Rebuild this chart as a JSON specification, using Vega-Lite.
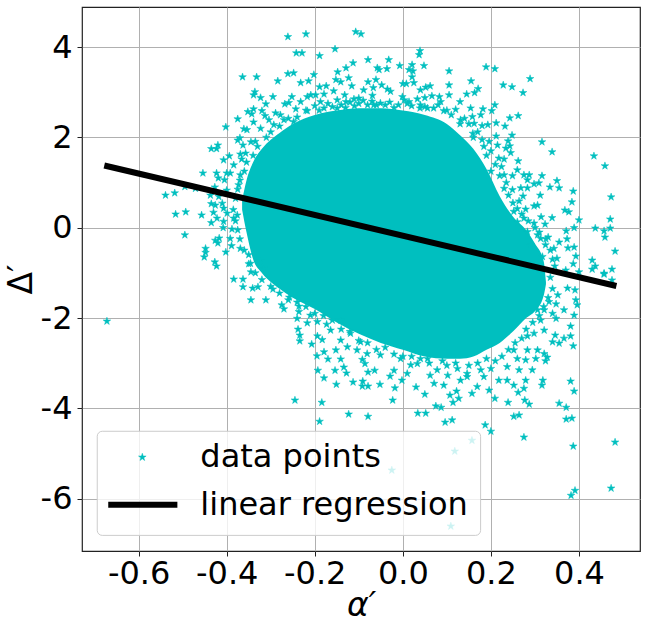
{"$schema":"https://vega.github.io/schema/vega-lite/v6.json","width":558,"height":544,"autosize":"none","padding":{"left":82,"top":7,"right":7,"bottom":80},"background":"white",
"config":{"font":"DejaVu Sans","view":{"stroke":"#222","strokeWidth":1.2}},
"datasets":{
"core":[{"x":-0.365,"lo":0.4,"hi":0.6},{"x":-0.355,"lo":-0.1,"hi":1.05},{"x":-0.34,"lo":-0.7,"hi":1.45},{"x":-0.32,"lo":-1.0,"hi":1.75},{"x":-0.3,"lo":-1.2,"hi":1.95},{"x":-0.28,"lo":-1.35,"hi":2.1},{"x":-0.25,"lo":-1.55,"hi":2.3},{"x":-0.2,"lo":-1.8,"hi":2.5},{"x":-0.15,"lo":-2.1,"hi":2.6},{"x":-0.1,"lo":-2.35,"hi":2.65},{"x":-0.05,"lo":-2.55,"hi":2.65},{"x":0,"lo":-2.7,"hi":2.6},{"x":0.05,"lo":-2.85,"hi":2.5},{"x":0.1,"lo":-2.9,"hi":2.3},{"x":0.13,"lo":-2.9,"hi":2.05},{"x":0.16,"lo":-2.85,"hi":1.75},{"x":0.19,"lo":-2.7,"hi":1.3},{"x":0.22,"lo":-2.55,"hi":0.7},{"x":0.25,"lo":-2.3,"hi":0.25},{"x":0.28,"lo":-2.0,"hi":-0.05},{"x":0.3,"lo":-1.85,"hi":-0.35},{"x":0.32,"lo":-1.5,"hi":-0.75},{"x":0.325,"lo":-1.25,"hi":-1.2}],
"fit":[{"x":-0.678,"y":1.38},{"x":0.485,"y":-1.29}],
"box":[{"x":-0.694,"x2":0.1766,"y":-4.508,"y2":-6.814}],
"keyStar":[{"x":-0.5916,"y":-5.084}],
"keyLine":[{"x":-0.669,"y":-6.133},{"x":-0.512,"y":-6.133}],
"keyText":[{"x":-0.4598,"y":-5.306,"label":"data points"},{"x":-0.4598,"y":-6.37,"label":"linear regression"}],
"pts":[{"x":-0.24,"y":2.45},{"x":-0.22,"y":2.6},{"x":-0.2,"y":2.7},{"x":-0.19,"y":2.6},{"x":-0.17,"y":2.75},{"x":-0.16,"y":2.68},{"x":-0.14,"y":2.72},{"x":-0.13,"y":2.66},{"x":-0.12,"y":2.78},{"x":-0.11,"y":2.7},{"x":-0.1,"y":2.75},{"x":-0.09,"y":2.82},{"x":-0.08,"y":2.72},{"x":-0.07,"y":2.8},{"x":-0.06,"y":2.72},{"x":-0.04,"y":2.72},{"x":-0.03,"y":2.78},{"x":-0.01,"y":2.72},{"x":0.01,"y":2.75},{"x":0.02,"y":2.7},{"x":0.04,"y":2.72},{"x":0.05,"y":2.68},{"x":0.07,"y":2.65},{"x":0.08,"y":2.72},{"x":0.1,"y":2.6},{"x":0.11,"y":2.5},{"x":0.12,"y":2.62},{"x":0.14,"y":2.42},{"x":0.15,"y":2.3},{"x":0.17,"y":2.12},{"x":0.13,"y":2.3},{"x":0.18,"y":1.95},{"x":0.16,"y":2.0},{"x":0.2,"y":1.7},{"x":0.19,"y":1.6},{"x":0.21,"y":1.4},{"x":0.2,"y":1.25},{"x":0.22,"y":1.15},{"x":0.235,"y":1.0},{"x":0.24,"y":0.72},{"x":0.25,"y":0.55},{"x":0.26,"y":0.42},{"x":0.27,"y":0.3},{"x":0.285,"y":0.15},{"x":0.3,"y":0},{"x":0.31,"y":-0.1},{"x":0.325,"y":-0.25},{"x":0.335,"y":-0.5},{"x":0.34,"y":-0.7},{"x":0.345,"y":-0.85},{"x":0.335,"y":-1.1},{"x":0.34,"y":-1.35},{"x":0.33,"y":-1.55},{"x":0.32,"y":-1.75},{"x":0.31,"y":-1.95},{"x":0.295,"y":-2.1},{"x":0.28,"y":-2.25},{"x":0.27,"y":-2.45},{"x":0.255,"y":-2.55},{"x":0.24,"y":-2.7},{"x":0.225,"y":-2.85},{"x":0.21,"y":-2.95},{"x":0.19,"y":-2.9},{"x":0.17,"y":-3.0},{"x":0.15,"y":-3.05},{"x":0.12,"y":-3.0},{"x":0.1,"y":-3.05},{"x":0.09,"y":-2.95},{"x":0.06,"y":-3.0},{"x":0.04,"y":-2.9},{"x":0.02,"y":-2.85},{"x":0,"y":-2.85},{"x":-0.02,"y":-2.8},{"x":-0.04,"y":-2.65},{"x":-0.06,"y":-2.7},{"x":-0.08,"y":-2.55},{"x":-0.1,"y":-2.5},{"x":-0.12,"y":-2.3},{"x":-0.14,"y":-2.25},{"x":-0.16,"y":-2.05},{"x":-0.18,"y":-1.95},{"x":-0.2,"y":-1.9},{"x":-0.22,"y":-1.75},{"x":-0.24,"y":-1.65},{"x":-0.26,"y":-1.6},{"x":-0.28,"y":-1.45},{"x":-0.3,"y":-1.3},{"x":-0.32,"y":-1.15},{"x":-0.335,"y":-1.0},{"x":-0.35,"y":-0.8},{"x":-0.36,"y":-0.5},{"x":-0.37,"y":-0.25},{"x":-0.375,"y":-0.05},{"x":-0.38,"y":0.15},{"x":-0.385,"y":0.4},{"x":-0.38,"y":0.65},{"x":-0.375,"y":0.85},{"x":-0.37,"y":1.05},{"x":-0.36,"y":1.25},{"x":-0.355,"y":1.45},{"x":-0.34,"y":1.6},{"x":-0.33,"y":1.8},{"x":-0.31,"y":2.0},{"x":-0.3,"y":2.12},{"x":-0.28,"y":2.25},{"x":-0.26,"y":2.42},{"x":-0.261,"y":4.23},{"x":-0.22,"y":4.29},{"x":-0.107,"y":4.34},{"x":-0.095,"y":4.29},{"x":-0.154,"y":3.96},{"x":-0.242,"y":3.87},{"x":-0.229,"y":3.87},{"x":-0.189,"y":3.81},{"x":-0.079,"y":3.72},{"x":-0.113,"y":3.65},{"x":-0.129,"y":3.54},{"x":-0.148,"y":3.45},{"x":-0.261,"y":3.41},{"x":-0.248,"y":3.43},{"x":-0.202,"y":3.39},{"x":-0.364,"y":3.34},{"x":-0.332,"y":3.34},{"x":-0.284,"y":3.25},{"x":-0.232,"y":3.21},{"x":-0.214,"y":3.25},{"x":-0.123,"y":3.32},{"x":-0.152,"y":3.28},{"x":-0.141,"y":3.23},{"x":-0.116,"y":3.14},{"x":-0.079,"y":3.23},{"x":-0.189,"y":3.12},{"x":-0.174,"y":3.14},{"x":-0.336,"y":3.01},{"x":-0.339,"y":2.94},{"x":-0.323,"y":2.88},{"x":-0.295,"y":2.9},{"x":-0.252,"y":2.9},{"x":-0.311,"y":2.74},{"x":-0.209,"y":2.94},{"x":-0.198,"y":2.94},{"x":-0.217,"y":2.9},{"x":-0.179,"y":2.96},{"x":-0.157,"y":3.03},{"x":-0.132,"y":2.94},{"x":-0.111,"y":2.85},{"x":-0.089,"y":3.05},{"x":-0.1,"y":2.87},{"x":-0.268,"y":2.74},{"x":-0.259,"y":2.77},{"x":-0.232,"y":2.79},{"x":-0.187,"y":2.79},{"x":-0.149,"y":2.83},{"x":-0.129,"y":2.79},{"x":-0.352,"y":2.57},{"x":-0.339,"y":2.63},{"x":-0.343,"y":2.52},{"x":-0.32,"y":2.59},{"x":-0.289,"y":2.54},{"x":-0.243,"y":2.63},{"x":-0.217,"y":2.59},{"x":-0.179,"y":2.65},{"x":-0.149,"y":2.65},{"x":-0.375,"y":2.41},{"x":-0.339,"y":2.34},{"x":-0.313,"y":2.48},{"x":-0.304,"y":2.39},{"x":-0.278,"y":2.5},{"x":-0.27,"y":2.39},{"x":-0.402,"y":2.23},{"x":-0.361,"y":2.19},{"x":-0.354,"y":2.17},{"x":-0.323,"y":2.2},{"x":-0.293,"y":2.28},{"x":-0.248,"y":2.35},{"x":-0.37,"y":1.99},{"x":-0.375,"y":1.94},{"x":-0.42,"y":1.83},{"x":-0.435,"y":1.75},{"x":-0.423,"y":1.75},{"x":-0.345,"y":1.9},{"x":-0.335,"y":1.91},{"x":-0.363,"y":1.83},{"x":-0.394,"y":1.59},{"x":-0.407,"y":1.5},{"x":-0.369,"y":1.63},{"x":-0.357,"y":1.65},{"x":-0.366,"y":1.52},{"x":-0.384,"y":1.39},{"x":-0.454,"y":1.21},{"x":-0.423,"y":1.21},{"x":-0.419,"y":1.1},{"x":-0.405,"y":1.06},{"x":-0.4,"y":1.21},{"x":-0.392,"y":1.21},{"x":-0.369,"y":1.17},{"x":-0.373,"y":0.95},{"x":-0.495,"y":0.91},{"x":-0.471,"y":0.87},{"x":-0.427,"y":0.9},{"x":-0.4,"y":0.83},{"x":-0.539,"y":0.72},{"x":-0.518,"y":0.77},{"x":-0.437,"y":0.72},{"x":-0.418,"y":0.69},{"x":-0.435,"y":0.53},{"x":-0.426,"y":0.5},{"x":-0.41,"y":0.54},{"x":-0.407,"y":0.43},{"x":-0.516,"y":0.3},{"x":-0.493,"y":0.35},{"x":-0.457,"y":0.28},{"x":-0.43,"y":0.34},{"x":-0.399,"y":0.32},{"x":-0.422,"y":0.21},{"x":-0.435,"y":0.11},{"x":-0.407,"y":0.14},{"x":-0.384,"y":0.21},{"x":-0.376,"y":0.28},{"x":-0.408,"y":0},{"x":-0.388,"y":-0.03},{"x":-0.495,"y":-0.16},{"x":-0.417,"y":-0.23},{"x":-0.426,"y":-0.28},{"x":-0.42,"y":-0.34},{"x":-0.392,"y":-0.24},{"x":-0.389,"y":-0.4},{"x":-0.369,"y":-0.46},{"x":-0.448,"y":-0.46},{"x":-0.448,"y":-0.55},{"x":-0.451,"y":-0.65},{"x":-0.402,"y":-0.54},{"x":-0.427,"y":-0.76},{"x":-0.423,"y":-0.85},{"x":-0.35,"y":-0.6},{"x":-0.346,"y":-0.79},{"x":-0.345,"y":-0.98},{"x":-0.323,"y":-0.75},{"x":-0.316,"y":-0.9},{"x":-0.384,"y":-1.14},{"x":-0.363,"y":-1.14},{"x":-0.363,"y":-1.31},{"x":-0.341,"y":-1.34},{"x":-0.329,"y":-1.31},{"x":-0.295,"y":-1.36},{"x":-0.345,"y":-1.6},{"x":-0.311,"y":-1.6},{"x":-0.275,"y":-1.71},{"x":-0.27,"y":-1.8},{"x":-0.258,"y":-1.54},{"x":-0.236,"y":-1.74},{"x":-0.236,"y":-1.86},{"x":-0.24,"y":-2.01},{"x":-0.672,"y":-2.07},{"x":-0.238,"y":-2.25},{"x":-0.234,"y":-2.38},{"x":-0.234,"y":-2.51},{"x":-0.207,"y":-2.58},{"x":-0.194,"y":-2.4},{"x":-0.194,"y":-2.08},{"x":-0.217,"y":-2.11},{"x":-0.173,"y":-2.14},{"x":-0.164,"y":-2.27},{"x":-0.183,"y":-2.48},{"x":-0.152,"y":-2.71},{"x":-0.179,"y":-2.75},{"x":-0.195,"y":-2.84},{"x":-0.17,"y":-2.91},{"x":-0.141,"y":-2.91},{"x":-0.134,"y":-3.09},{"x":-0.154,"y":-3.16},{"x":-0.193,"y":-3.16},{"x":-0.179,"y":-3.33},{"x":-0.128,"y":-3.22},{"x":-0.079,"y":-3.2},{"x":-0.151,"y":-3.47},{"x":-0.113,"y":-3.42},{"x":-0.091,"y":-3.4},{"x":-0.092,"y":-3.51},{"x":-0.079,"y":-3.51},{"x":-0.092,"y":-2.92},{"x":-0.086,"y":-3.01},{"x":-0.245,"y":-3.82},{"x":-0.184,"y":-3.87},{"x":-0.123,"y":-4.13},{"x":-0.079,"y":-4.18},{"x":-0.189,"y":-4.29},{"x":-0.21,"y":-1.65},{"x":-0.141,"y":-2.49},{"x":-0.126,"y":-2.64},{"x":-0.104,"y":-2.71},{"x":-0.141,"y":-2.05},{"x":-0.119,"y":-2.34},{"x":-0.096,"y":-2.53},{"x":-0.21,"y":-1.94},{"x":0.039,"y":3.92},{"x":0.037,"y":3.83},{"x":-0.032,"y":3.72},{"x":-0.007,"y":3.59},{"x":0.021,"y":3.61},{"x":0.048,"y":3.59},{"x":-0.058,"y":3.54},{"x":-0.054,"y":3.5},{"x":-0.036,"y":3.52},{"x":0.014,"y":3.5},{"x":0.023,"y":3.47},{"x":0.105,"y":3.47},{"x":0.189,"y":3.56},{"x":0.209,"y":3.52},{"x":0.289,"y":3.3},{"x":0.021,"y":3.34},{"x":-0.061,"y":3.28},{"x":0.155,"y":3.25},{"x":0.105,"y":3.16},{"x":0.228,"y":3.16},{"x":0.248,"y":3.12},{"x":0.273,"y":2.99},{"x":0,"y":3.19},{"x":0.008,"y":3.19},{"x":0.025,"y":3.21},{"x":-0.048,"y":3.16},{"x":-0.067,"y":3.1},{"x":-0.035,"y":3.07},{"x":-0.028,"y":3.02},{"x":0.062,"y":3.14},{"x":0.052,"y":3.11},{"x":0.04,"y":3.05},{"x":0.171,"y":3.08},{"x":0.163,"y":2.99},{"x":0.145,"y":2.96},{"x":-0.069,"y":2.93},{"x":-0.001,"y":2.9},{"x":0.003,"y":2.83},{"x":0.014,"y":2.79},{"x":0.033,"y":2.85},{"x":0.05,"y":2.88},{"x":0.066,"y":2.92},{"x":0.083,"y":2.9},{"x":0.105,"y":2.94},{"x":0.086,"y":2.79},{"x":0.13,"y":2.79},{"x":0.209,"y":2.72},{"x":0.202,"y":2.59},{"x":0.182,"y":2.63},{"x":0.154,"y":2.65},{"x":-0.051,"y":2.76},{"x":-0.066,"y":2.72},{"x":-0.02,"y":2.66},{"x":0.039,"y":2.65},{"x":0.056,"y":2.65},{"x":0.093,"y":2.59},{"x":0.177,"y":2.5},{"x":0.243,"y":2.43},{"x":0.262,"y":2.48},{"x":0.158,"y":2.46},{"x":0.212,"y":2.32},{"x":0.232,"y":2.25},{"x":0.193,"y":2.28},{"x":0.18,"y":2.26},{"x":0.162,"y":2.31},{"x":0.131,"y":2.39},{"x":0.248,"y":2.05},{"x":0.212,"y":2.03},{"x":0.159,"y":2.09},{"x":0.316,"y":1.9},{"x":0.339,"y":1.68},{"x":0.239,"y":1.92},{"x":0.196,"y":1.91},{"x":0.215,"y":1.83},{"x":0.184,"y":1.8},{"x":0.243,"y":1.81},{"x":0.234,"y":1.76},{"x":0.245,"y":1.66},{"x":0.218,"y":1.54},{"x":0.23,"y":1.52},{"x":0.262,"y":1.48},{"x":0.434,"y":1.59},{"x":0.459,"y":1.37},{"x":0.224,"y":1.35},{"x":0.26,"y":1.28},{"x":0.249,"y":1.15},{"x":0.23,"y":1.17},{"x":0.275,"y":1.17},{"x":0.287,"y":1.17},{"x":0.316,"y":1.15},{"x":0.283,"y":1.06},{"x":0.298,"y":0.97},{"x":0.309,"y":0.99},{"x":0.35,"y":1.04},{"x":0.334,"y":0.9},{"x":0.355,"y":0.88},{"x":0.268,"y":0.88},{"x":0.283,"y":0.88},{"x":0.249,"y":0.84},{"x":0.23,"y":0.87},{"x":0.387,"y":0.81},{"x":0.312,"y":0.72},{"x":0.273,"y":0.7},{"x":0.264,"y":0.59},{"x":0.384,"y":0.57},{"x":0.473,"y":0.68},{"x":0.306,"y":0.5},{"x":0.298,"y":0.48},{"x":0.279,"y":0.41},{"x":0.368,"y":0.39},{"x":0.377,"y":0.35},{"x":0.252,"y":0.36},{"x":0.339,"y":0.22},{"x":0.314,"y":0.24},{"x":0.4,"y":0.17},{"x":0.471,"y":0.19},{"x":0.275,"y":0.21},{"x":0.26,"y":0.13},{"x":0.298,"y":0.1},{"x":0.323,"y":0.08},{"x":0.389,"y":0},{"x":0.437,"y":-0.01},{"x":0.471,"y":-0.01},{"x":0.457,"y":-0.07},{"x":0.371,"y":-0.07},{"x":0.459,"y":-0.21},{"x":0.33,"y":-0.21},{"x":0.355,"y":-0.32},{"x":0.373,"y":-0.25},{"x":0.343,"y":-0.46},{"x":0.375,"y":-0.45},{"x":0.389,"y":-0.43},{"x":0.482,"y":-0.52},{"x":0.393,"y":-0.63},{"x":0.35,"y":-0.68},{"x":0.43,"y":-0.72},{"x":0.387,"y":-0.8},{"x":0.437,"y":-0.85},{"x":0.43,"y":-0.92},{"x":0.475,"y":-0.92},{"x":0.4,"y":-0.98},{"x":0.457,"y":-1.01},{"x":0.37,"y":-0.94},{"x":0.317,"y":-0.64},{"x":0.306,"y":-0.16},{"x":0.29,"y":-0.38},{"x":0.324,"y":-0.38},{"x":0.313,"y":-0.24},{"x":0.283,"y":-0.09},{"x":0.457,"y":-1.03},{"x":0.475,"y":-1.16},{"x":0.374,"y":-1.34},{"x":0.391,"y":-1.38},{"x":0.352,"y":-1.49},{"x":0.393,"y":-1.6},{"x":0.396,"y":-1.71},{"x":0.366,"y":-1.82},{"x":0.348,"y":-1.69},{"x":0.389,"y":-1.94},{"x":0.34,"y":-1.9},{"x":0.348,"y":-2.01},{"x":0.381,"y":-2.18},{"x":0.346,"y":-2.38},{"x":0.381,"y":-2.4},{"x":0.366,"y":-2.45},{"x":0.355,"y":-2.56},{"x":0.387,"y":-2.62},{"x":0.321,"y":-2.27},{"x":0.34,"y":-2.53},{"x":0.328,"y":-2.87},{"x":0.324,"y":-2.95},{"x":0.302,"y":-2.9},{"x":0.294,"y":-3.15},{"x":0.318,"y":-3.38},{"x":0.316,"y":-3.49},{"x":0.381,"y":-3.4},{"x":0.389,"y":-3.62},{"x":0.355,"y":-3.89},{"x":0.371,"y":-3.98},{"x":0.279,"y":-3.38},{"x":0.275,"y":-3.56},{"x":0.262,"y":-3.65},{"x":0.277,"y":-3.82},{"x":0.287,"y":-3.91},{"x":0.239,"y":-3.87},{"x":0.209,"y":-3.78},{"x":0.196,"y":-3.6},{"x":0.157,"y":-3.67},{"x":0.252,"y":-3.49},{"x":0.237,"y":-3.38},{"x":0.264,"y":-3.15},{"x":0.218,"y":-3.38},{"x":0.184,"y":-3.3},{"x":0.146,"y":-3.3},{"x":0.131,"y":-3.38},{"x":0.169,"y":-3.52},{"x":0.122,"y":-3.62},{"x":0.107,"y":-3.71},{"x":0.127,"y":-3.78},{"x":0.114,"y":-3.87},{"x":0.093,"y":-3.49},{"x":0.071,"y":-3.45},{"x":0.062,"y":-3.27},{"x":0.102,"y":-3.27},{"x":0.05,"y":-3.69},{"x":0.03,"y":-3.53},{"x":-0.018,"y":-3.55},{"x":-0.023,"y":-3.82},{"x":-0.052,"y":-3.47},{"x":-0.002,"y":-3.38},{"x":0.01,"y":-3.23},{"x":-0.029,"y":-3.29},{"x":-0.064,"y":-3.16},{"x":0.075,"y":-3.95},{"x":0.087,"y":-3.98},{"x":0.034,"y":-4.11},{"x":0.052,"y":-4.11},{"x":0.096,"y":-4.31},{"x":0.112,"y":-4.26},{"x":0.252,"y":-4.18},{"x":0.264,"y":-4.15},{"x":0.187,"y":-4.37},{"x":0.2,"y":-4.51},{"x":0.371,"y":-4.24},{"x":0.384,"y":-4.22},{"x":0.275,"y":-4.64},{"x":0.387,"y":-4.84},{"x":0.482,"y":-4.75},{"x":0.157,"y":-4.71},{"x":0.118,"y":-4.95},{"x":-0.025,"y":-5.37},{"x":0.109,"y":-6.61},{"x":0.391,"y":-5.82},{"x":0.382,"y":-5.93},{"x":0.473,"y":-5.77},{"x":0.018,"y":-3.04},{"x":0.033,"y":-3.01},{"x":0.056,"y":-2.9},{"x":0.078,"y":-3.15},{"x":0.124,"y":-3.12},{"x":0.146,"y":-3.23},{"x":0.177,"y":-3.15},{"x":0.2,"y":-3.12},{"x":0.237,"y":-3.08},{"x":0.279,"y":-2.93},{"x":-0.02,"y":-3.16},{"x":-0.051,"y":-2.82},{"x":-0.081,"y":-2.79},{"x":-0.005,"y":-2.9},{"x":0.26,"y":-2.9},{"x":0.283,"y":-2.71},{"x":0.306,"y":-2.71},{"x":0.321,"y":-2.79},{"x":0.298,"y":-2.34},{"x":0.313,"y":-2.05},{"x":0.321,"y":-1.82},{"x":0.332,"y":-1.64},{"x":0.306,"y":-1.82},{"x":0.283,"y":-2.4},{"x":0.252,"y":-2.71}]
},
"layer":[
{"data":{"name":"core"},"mark":{"type":"area","color":"#00BFBF","interpolate":"monotone"},
"encoding":{"x":{"field":"x","type":"quantitative","scale":{"domain":[-0.7286,0.5386],"nice":false,"zero":false},
"axis":{"values":[-0.6,-0.4,-0.2,0,0.2,0.4],"format":".1f","labelExpr":"replace(datum.label,'−','-')","labelFontSize":32,"labelColor":"black","labelPadding":2,"tickSize":5,"tickColor":"#222","gridColor":"#b0b0b0","gridOpacity":1,"gridWidth":1,"domain":false,"title":"α′","titleFontSize":33,"titleFontStyle":"italic","titleFontWeight":"normal","titleColor":"black","titlePadding":0}},
"y":{"field":"hi","type":"quantitative","scale":{"domain":[-7.16,4.89],"nice":false,"zero":false},
"axis":{"values":[-6,-4,-2,0,2,4],"format":"d","labelExpr":"replace(datum.label,'−','-')","labelFontSize":32,"labelColor":"black","labelPadding":5,"tickSize":5,"tickColor":"#222","gridColor":"#b0b0b0","gridOpacity":1,"gridWidth":1,"domain":false,"title":"Δ′","titleFontSize":33,"titleFontWeight":"normal","titleColor":"black","titlePadding":2}},
"y2":{"field":"lo"}}},
{"data":{"name":"pts"},"mark":{"type":"point","filled":true,"opacity":1,"shape":"M0,-1L0.225,-0.309L0.951,-0.309L0.363,0.118L0.588,0.809L0,0.382L-0.588,0.809L-0.363,0.118L-0.951,-0.309L-0.225,-0.309Z","size":64,"color":"#00BFBF","stroke":"#00BFBF","strokeWidth":0.5},
"encoding":{"x":{"field":"x","type":"quantitative"},"y":{"field":"y","type":"quantitative"}}},
{"data":{"name":"fit"},"mark":{"type":"line","color":"black","strokeWidth":6,"strokeCap":"butt"},
"encoding":{"x":{"field":"x","type":"quantitative"},"y":{"field":"y","type":"quantitative"}}},
{"data":{"name":"box"},"mark":{"type":"rect","fill":"white","fillOpacity":0.8,"stroke":"#cccccc","strokeWidth":1,"cornerRadius":5},
"encoding":{"x":{"field":"x","type":"quantitative"},"x2":{"field":"x2"},"y":{"field":"y","type":"quantitative"},"y2":{"field":"y2"}}},
{"data":{"name":"keyStar"},"mark":{"type":"point","filled":true,"opacity":1,"shape":"M0,-1L0.225,-0.309L0.951,-0.309L0.363,0.118L0.588,0.809L0,0.382L-0.588,0.809L-0.363,0.118L-0.951,-0.309L-0.225,-0.309Z","size":64,"color":"#00BFBF","stroke":"#00BFBF","strokeWidth":0.5},
"encoding":{"x":{"field":"x","type":"quantitative"},"y":{"field":"y","type":"quantitative"}}},
{"data":{"name":"keyLine"},"mark":{"type":"line","color":"black","strokeWidth":6,"strokeCap":"butt"},
"encoding":{"x":{"field":"x","type":"quantitative"},"y":{"field":"y","type":"quantitative"}}},
{"data":{"name":"keyText"},"mark":{"type":"text","align":"left","baseline":"alphabetic","fontSize":32,"color":"black","font":"DejaVu Sans"},
"encoding":{"x":{"field":"x","type":"quantitative"},"y":{"field":"y","type":"quantitative"},"text":{"field":"label"}}}
]}
